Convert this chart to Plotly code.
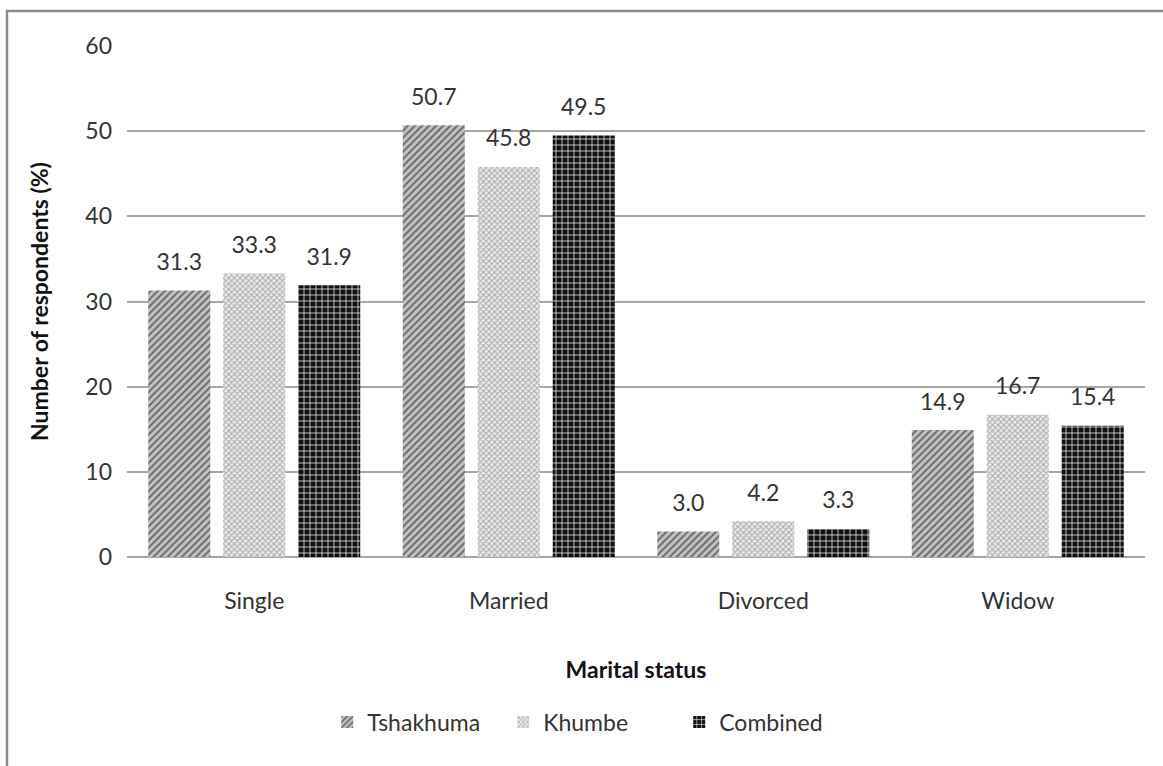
import plotly.graph_objects as go

categories = ["Single", "Married", "Divorced", "Widow"]
tshakhuma = [31.3, 50.7, 3.0, 14.9]
khumbe = [33.3, 45.8, 4.2, 16.7]
combined = [31.9, 49.5, 3.3, 15.4]

FONT = "Lato"
TXT = "#333333"

series = [
    ("Tshakhuma", tshakhuma, dict(color="#b4b4b4", pattern=dict(shape="/", fgcolor="#6a6a6a", bgcolor="#c2c2c2", size=5, solidity=0.4, fillmode="replace"))),
    ("Khumbe", khumbe, dict(color="#e0e0e0", pattern=dict(shape="x", fgcolor="#a9a9a9", bgcolor="#ebebeb", size=4, solidity=0.45, fillmode="replace"))),
    ("Combined", combined, dict(color="#000000", pattern=dict(shape="+", fgcolor="#ffffff", bgcolor="#111111", size=6, solidity=0.22, fillmode="replace"))),
]

fig = go.Figure()
for name, vals, marker in series:
    fig.add_trace(go.Bar(
        x=categories, y=vals, name=name, marker=dict(line=dict(width=0), **marker),
        offsetgroup=name,
    ))

# value labels above each bar, lifted by an invisible marker
for name, vals, _ in series:
    fig.add_trace(go.Scatter(
        x=categories, y=vals, mode="markers+text", offsetgroup=name,
        text=[f"{v:.1f}" for v in vals], textposition="top center",
        textfont=dict(family=FONT, size=23, color=TXT),
        marker=dict(size=22, opacity=0), showlegend=False, hoverinfo="skip",
        cliponaxis=False,
    ))

fig.update_layout(
    width=1163, height=766,
    paper_bgcolor="white", plot_bgcolor="white",
    margin=dict(l=127, r=18, t=46, b=209),
    barmode="group", scattermode="group",
    bargap=0.116, bargroupgap=0.173,
    font=dict(family=FONT, size=23, color=TXT),
    legend=dict(
        orientation="h", x=0.456, xanchor="center", y=-0.323, yanchor="middle",
        font=dict(family=FONT, size=23, color=TXT), itemwidth=30,
        entrywidth=131, entrywidthmode="pixels",
    ),
    xaxis=dict(
        title=dict(text="<b>Marital status</b>", font=dict(family=FONT, size=23, color="#111111"), standoff=48),
        showline=False, ticks="", tickfont=dict(size=23), showgrid=False,
        ticklabelstandoff=28,
    ),
    yaxis=dict(
        title=dict(text="<b>Number of respondents (%)</b>", font=dict(family=FONT, size=23, color="#111111"), standoff=30),
        range=[0, 60], dtick=10, showgrid=True, gridcolor="#a6a6a6", gridwidth=1.5,
        zeroline=True, zerolinecolor="#a6a6a6", zerolinewidth=1.5,
        showline=False, ticks="", ticklabelstandoff=14, tickfont=dict(size=23),
    ),
    shapes=[dict(
        type="rect", xref="paper", yref="paper",
        x0=-0.1179, x1=1.05, y0=-0.6, y1=1.0685,
        line=dict(color="#8a8a8a", width=2.5), fillcolor="rgba(0,0,0,0)", layer="below",
    )],
)

fig.write_html("out.html")
